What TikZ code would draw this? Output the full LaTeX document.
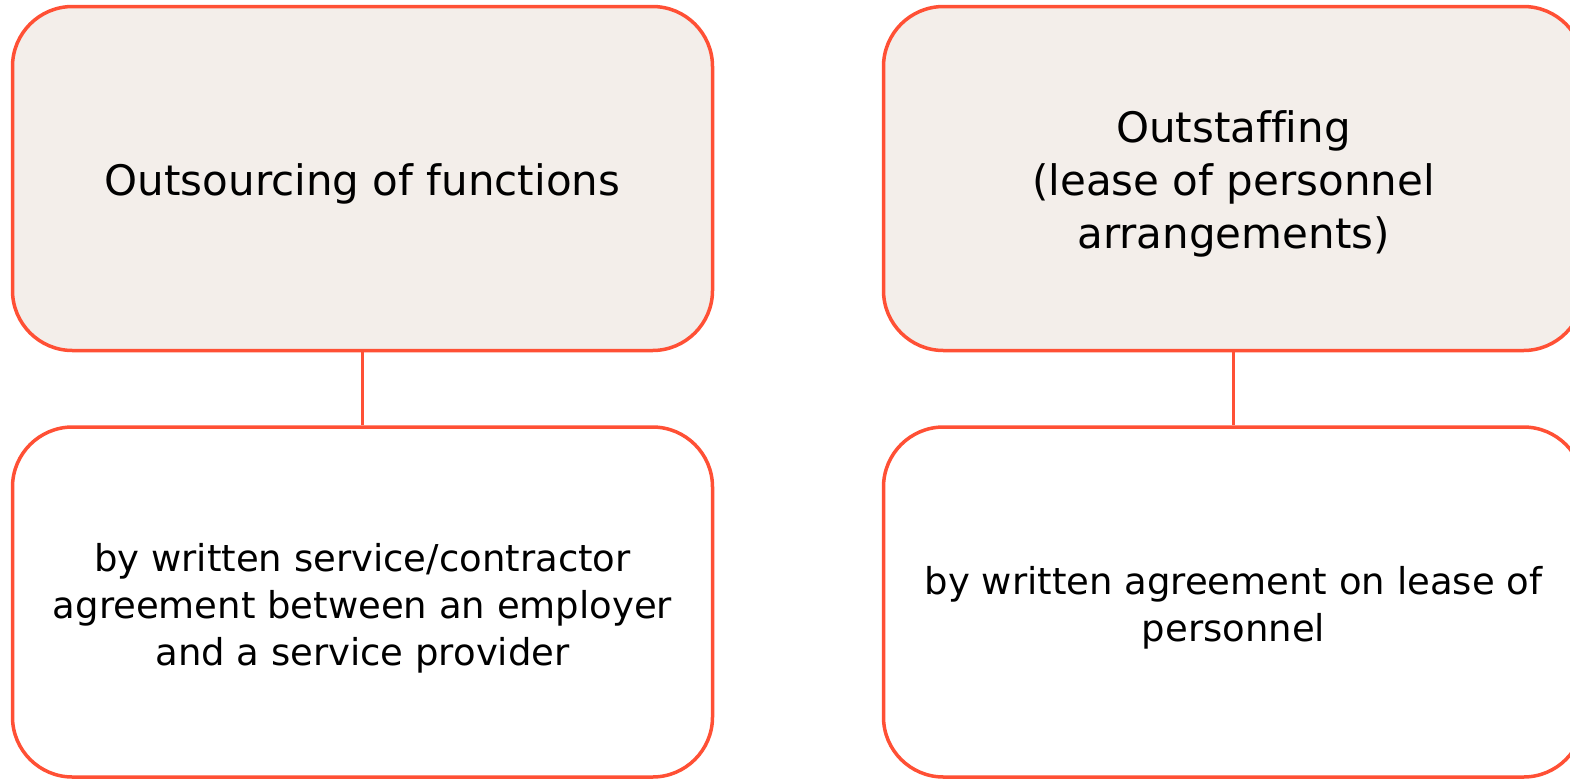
\documentclass[tikz,border=0pt]{standalone}
\usepackage{fontspec}
\setmainfont[Ligatures=NoCommon]{DejaVu Sans}
\definecolor{boxline}{HTML}{FF5035}
\definecolor{boxfill}{HTML}{F3EEEA}
\newcommand{\lift}[1]{\rule{0pt}{#1}}
\tikzset{
  kind/.style={draw=boxline, line width=1.75pt, fill=boxfill, rounded corners=30pt,
    minimum width=350pt, minimum height=172pt, align=center, font=\fontsize{21}{26.5}\selectfont},
  means/.style={kind, fill=white, minimum height=175pt, font=\fontsize{18.5}{23.5}\selectfont}
}
\begin{document}
\begin{tikzpicture}[x=0.5pt, y=-0.5pt]
    \useasboundingbox (0,0) rectangle (1570,778);
    \node[kind] (A) at (362.5,178.5) {\lift{21pt}Outsourcing of functions};
    \node[kind, right of=A, node distance=435.5pt] (B) {\lift{21pt}Outstaffing\\(lease of personnel\\arrangements)};
    \node[means, below of=A, node distance=211.75pt] (C) {\lift{20pt}by written service/contractor\\agreement between an employer\\and a service provider};
    \node[means, below of=B, node distance=211.75pt] (D) {\lift{20pt}by written agreement on lease of\\personnel};

    \draw[boxline, line width=1.75pt] (A) -- (C);
    \draw[boxline, line width=1.75pt] (B) -- (D);
\end{tikzpicture}
\end{document}
